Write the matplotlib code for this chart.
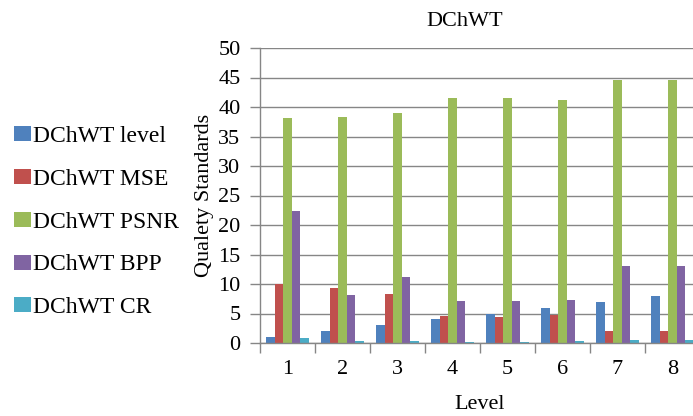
import numpy as np
import matplotlib.pyplot as plt

plt.rcParams['font.family'] = ['Liberation Serif', 'DejaVu Serif']

levels = [1, 2, 3, 4, 5, 6, 7, 8]
level_vals = [1, 2, 3, 4, 5, 6, 7, 8]
mse_vals = [10.0, 9.4, 8.3, 4.5, 4.4, 4.8, 2.1, 2.1]
psnr_vals = [38.1, 38.3, 38.9, 41.5, 41.5, 41.2, 44.5, 44.5]
bpp_vals = [22.4, 8.1, 11.2, 7.1, 7.1, 7.3, 13.1, 13.1]
cr_vals = [0.9, 0.3, 0.4, 0.25, 0.25, 0.3, 0.5, 0.5]

series = [
    ('DChWT level', level_vals, '#4F81BD'),
    ('DChWT MSE', mse_vals, '#C0504D'),
    ('DChWT PSNR', psnr_vals, '#9BBB59'),
    ('DChWT BPP', bpp_vals, '#8064A2'),
    ('DChWT CR', cr_vals, '#4BACC6'),
]

fig = plt.figure(figsize=(6.93, 4.16), dpi=100)
# plot area runs a little past the right edge, as in the original
ax = fig.add_axes([260 / 693, 73 / 416, 440 / 693, 295 / 416])

x = np.arange(len(levels))
n = len(series)
w = 1 / (n + 1.5)
for i, (name, vals, color) in enumerate(series):
    offs = (i - (n - 1) / 2) * w
    ax.bar(x + offs, vals, width=w, color=color, label=name, zorder=3)

ax.set_xlim(-0.5, len(levels) - 0.5)
ax.set_ylim(0, 50)
ax.set_yticks(range(0, 51, 5))
ax.set_xticks(x)
ax.set_xticklabels([str(l) for l in levels])
ax.set_xticks(np.arange(-0.5, len(levels), 1), minor=True)
ax.tick_params(axis='x', which='major', length=0, labelsize=16, pad=12)
ax.tick_params(axis='x', which='minor', length=7, color='#868686', width=1)
ax.tick_params(axis='y', length=7, color='#868686', width=1, labelsize=16, pad=7)
ax.grid(axis='y', color='#868686', linewidth=1, zorder=0)

for side in ['top', 'right']:
    ax.spines[side].set_visible(False)
for side in ['left', 'bottom']:
    ax.spines[side].set_color('#868686')
    ax.spines[side].set_linewidth(1)
    ax.spines[side].set_zorder(4)

ax.set_xlabel('Level', fontsize=16, labelpad=12)
ax.set_ylabel('Qualety Standards', fontsize=16, labelpad=3)
fig.text(465 / 693, 1 - 21 / 416, 'DChWT', fontsize=16, ha='center', va='center')

fig.legend(loc='center left', bbox_to_anchor=(0.0, 0.466), frameon=False,
           fontsize=17, handlelength=0.7, handleheight=0.6, handletextpad=0.1,
           labelspacing=0.92, borderaxespad=0.2)

fig.savefig('out.png', dpi=100)
